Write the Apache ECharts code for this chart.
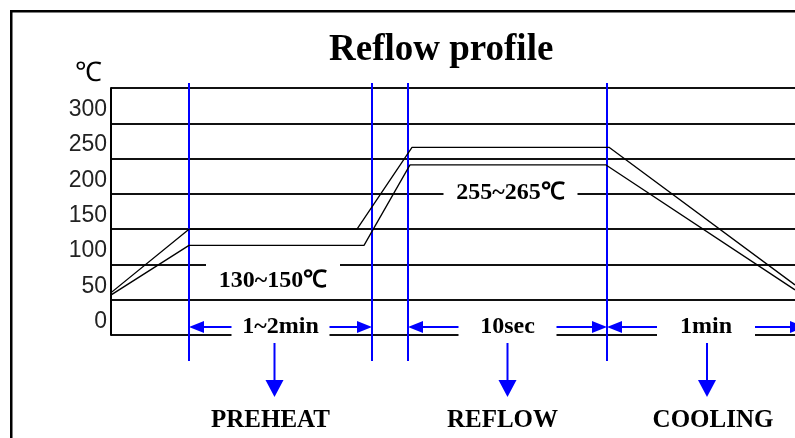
<!DOCTYPE html>
<html>
<head>
<meta charset="utf-8">
<title>Reflow profile</title>
<script src="https://cdn.jsdelivr.net/npm/echarts@6.0.0/dist/echarts.min.js"></script>
<style>
  html, body { margin: 0; padding: 0; background: #fff; }
  #chart { width: 795px; height: 438px; }
</style>
</head>
<body>
<div id="chart"></div>
<script>
// the time axis of the drawing is schematic, so time is in arbitrary units
const upperTime = [-13, 78, 246, 301, 498, 684];
const upperTemp = [45, 150, 150, 266, 266, 71];
const lowerTime = [-13, 78, 253, 299, 495, 684];
const lowerTemp = [45, 127, 127, 241, 241, 64];

const boundaryTimes = [78, 261, 297, 496];

const stageNames = ['PREHEAT', 'REFLOW', 'COOLING'];
const stageDurations = ['1~2min', '10sec', '1min'];
const stageStart = [78, 297, 496];
const stageEnd = [261, 496, 694];

const rangeLabels = ['130~150℃', '255~265℃'];
const rangeGridLine = [100, 200];

const tempTicks = ['0', '50', '100', '150', '200', '250', '300'];

const BLUE = '#0000ff';
const serif = "'Liberation Serif', 'Times New Roman', serif";

// small hand nudges (px) so the arrows / names sit where the drawing has them
const downArrowDx = [-6, 0, 1];
const stageNameDx = [-10, -5, 7];
const rangeDy = [16, -1];

const chart = echarts.init(document.getElementById('chart'));

function zip(xs, ys) {
  return xs.map((x, i) => [x, ys[i]]);
}

function renderBoundary(params, api) {
  const top = api.coord([api.value(0), 350]);
  const bot = api.coord([api.value(0), 0]);
  return {
    type: 'line',
    shape: { x1: top[0], y1: top[1] - 5, x2: bot[0], y2: bot[1] + 26 },
    style: { stroke: BLUE, lineWidth: 2 }
  };
}

function renderStage(params, api) {
  const i = params.dataIndex;
  const a = api.coord([api.value(0), 0]);
  const b = api.coord([api.value(1), 0]);
  const bottom = a[1];
  const ay = bottom - 8;
  const cx = (a[0] + b[0]) / 2;
  const dx = cx + downArrowDx[i];
  const gap = 49, head = 15, hw = 6;
  return {
    type: 'group',
    children: [
      { type: 'rect', shape: { x: cx - gap, y: ay - 11, width: gap * 2, height: 25 }, style: { fill: '#fff' } },
      { type: 'line', shape: { x1: a[0] + head, y1: ay, x2: cx - gap, y2: ay }, style: { stroke: BLUE, lineWidth: 2 } },
      { type: 'line', shape: { x1: cx + gap, y1: ay, x2: b[0] - head, y2: ay }, style: { stroke: BLUE, lineWidth: 2 } },
      { type: 'polygon', shape: { points: [[a[0], ay], [a[0] + head, ay - hw], [a[0] + head, ay + hw]] }, style: { fill: BLUE } },
      { type: 'polygon', shape: { points: [[b[0], ay], [b[0] - head, ay - hw], [b[0] - head, ay + hw]] }, style: { fill: BLUE } },
      {
        type: 'text', x: cx, y: ay,
        style: { text: stageDurations[i], font: 'bold 24px ' + serif, fill: '#000', align: 'center', verticalAlign: 'middle' }
      },
      // arrow down to the stage name
      { type: 'line', shape: { x1: dx, y1: bottom + 8, x2: dx, y2: bottom + 46 }, style: { stroke: BLUE, lineWidth: 2 } },
      { type: 'polygon', shape: { points: [[dx - 9, bottom + 45], [dx + 9, bottom + 45], [dx, bottom + 62]] }, style: { fill: BLUE } },
      {
        type: 'text', x: cx + stageNameDx[i], y: bottom + 86,
        style: { text: stageNames[i], font: 'bold 25px ' + serif, fill: '#000', align: 'center', verticalAlign: 'middle' }
      }
    ]
  };
}

function renderRange(params, api) {
  const i = params.dataIndex;
  const p = api.coord([api.value(0), api.value(1)]);
  const cy = p[1] + rangeDy[i];
  const top = Math.min(p[1] - 6, cy - 12);
  return {
    type: 'group',
    children: [
      { type: 'rect', shape: { x: p[0] - 67, y: top, width: 134, height: cy + 14 - top }, style: { fill: '#fff' } },
      {
        type: 'text', x: p[0], y: cy,
        style: { text: rangeLabels[i], font: 'bold 24px ' + serif, fill: '#000', align: 'center', verticalAlign: 'middle' }
      }
    ]
  };
}

chart.setOption({
  animation: false,
  backgroundColor: '#fff',
  title: {
    text: 'Reflow profile',
    left: 324,
    top: 27,
    textStyle: { fontFamily: serif, fontWeight: 'bold', fontSize: 37, color: '#000' }
  },
  graphic: [{
    type: 'rect',
    shape: { x: 11.25, y: 11.25, width: 800, height: 440 },
    style: { fill: 'none', stroke: '#000', lineWidth: 2.5 }
  }],
  grid: { left: 111, top: 88, width: 700, height: 247, containLabel: false, outerBoundsMode: 'none' },
  xAxis: { type: 'value', min: 0, max: 700, show: false },
  yAxis: {
    type: 'value', min: 0, max: 350, interval: 50,
    name: '℃', nameLocation: 'end', nameGap: 1,
    nameTextStyle: { fontSize: 27, color: '#000', fontFamily: serif, padding: [0, 46, 0, 0] },
    axisLine: { show: true, lineStyle: { color: '#000', width: 2 } },
    axisTick: { show: false },
    axisLabel: {
      formatter: v => tempTicks[v / 50] || '',
      fontFamily: 'Liberation Sans', fontSize: 23, color: '#222',
      margin: 4, verticalAlign: 'bottom', lineHeight: 27
    },
    splitLine: { lineStyle: { color: '#111', width: 2 } }
  },
  series: [
    {
      type: 'line', data: zip(upperTime, upperTemp), symbol: 'none', clip: false,
      lineStyle: { color: '#000', width: 1.3 }
    },
    {
      type: 'line', data: zip(lowerTime, lowerTemp), symbol: 'none', clip: false,
      lineStyle: { color: '#000', width: 1.3 }
    },
    {
      type: 'custom', clip: false, renderItem: renderBoundary,
      data: boundaryTimes.map(t => [t, 0])
    },
    {
      type: 'custom', clip: false, renderItem: renderRange,
      data: rangeLabels.map((_, i) => [(upperTime[2 * i + 1] + upperTime[2 * i + 2]) / 2, rangeGridLine[i]])
    },
    {
      type: 'custom', clip: false, renderItem: renderStage,
      data: stageStart.map((s, i) => [s, stageEnd[i]])
    }
  ]
});
</script>
</body>
</html>
